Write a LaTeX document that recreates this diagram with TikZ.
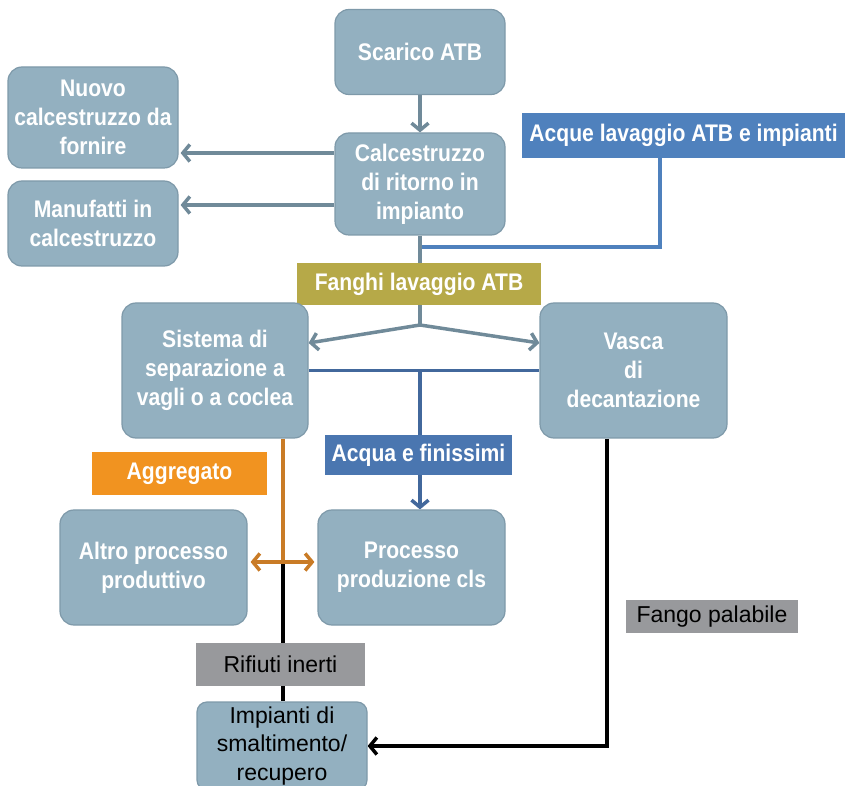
\documentclass[tikz,border=0pt]{standalone}
\usepackage{fontspec}
\setmainfont{Liberation Sans}[FakeStretch=0.88]
\newfontfamily\plainfont{Liberation Sans}
\usetikzlibrary{arrows.meta}
\usetikzlibrary{calc}
\definecolor{bx}{RGB}{147,176,192}
\definecolor{bxl}{RGB}{126,153,169}
\definecolor{gl}{RGB}{112,138,153}
\definecolor{bl1}{RGB}{79,129,189}
\definecolor{bl2}{RGB}{66,104,156}
\definecolor{bl3}{RGB}{74,118,176}
\definecolor{ol}{RGB}{182,169,72}
\definecolor{og}{RGB}{241,147,32}
\definecolor{ogl}{RGB}{201,123,38}
\definecolor{gr}{RGB}{152,153,156}

\begin{document}
\begin{tikzpicture} [
    x=1pt, y=-1pt,
    box/.style={
        font=\fontsize{24}{29}\selectfont\bfseries,
        align=center, text=white,
        draw=bxl, line width=1.2pt, fill=bx,
        rounded corners=14pt
    },
    tag/.style={
        font=\fontsize{24}{29}\selectfont\bfseries,
        text=white, fill=#1, inner sep=0pt
    },
    gtag/.style={
        font=\plainfont\fontsize{23}{28.5}\selectfont,
        text=black, fill=gr, inner sep=0pt
    },
    tip/.style={-{Straight Barb[length=7pt,width=17pt]}},
    garr/.style={draw=gl, line width=3.5pt, tip},
    bln/.style={draw=bl1, line width=3.5pt},
    dbln/.style={draw=bl2, line width=3.5pt},
    oln/.style={draw=ogl, line width=3.5pt},
    kln/.style={draw=black, line width=3.5pt}
]

\pgfdeclarelayer{background}
\pgfsetlayers{background,main}

\useasboundingbox (0,0) rectangle (847,786);

\node [box,minimum width=170pt,minimum height=85pt]  (scarico) at (420,52)    {Scarico ATB};
\node [box,minimum width=170pt,minimum height=102pt] (ritorno) at (420,184)   {Calcestruzzo\\di ritorno in\\impianto};
\node [box,minimum width=170pt,minimum height=101pt] (nuovo)   at (93,117.5)  {Nuovo\\calcestruzzo da\\fornire};
\node [box,minimum width=170pt,minimum height=85pt]  (manuf)   at (93,223.5)  {Manufatti in\\calcestruzzo};
\node [tag=bl1,minimum width=323pt,minimum height=45pt] (acque) at (683.5,135.5) {Acque lavaggio ATB e impianti};
\node [tag=ol,minimum width=244pt,minimum height=42pt] (fanghi) at (419,284) {Fanghi lavaggio ATB};

\node [box,minimum width=186pt,minimum height=135pt] (sistema) at (215,370.5)   {Sistema di\\separazione a\\vagli o a coclea};
\node [box,minimum width=187pt,minimum height=135pt] (vasca)   at (633.5,370.5) {Vasca\\di\\decantazione};
\node [tag=bl3,minimum width=187pt,minimum height=40pt] (acqua) at (418.5,455)  {Acqua e finissimi};
\node [tag=og,minimum width=175pt,minimum height=43pt]  (aggr)  at (179.5,473.5) {Aggregato};

\node [box,minimum width=187pt,minimum height=115pt] (altro) at (153.5,567.5) {Altro processo\\produttivo};
\node [box,minimum width=187pt,minimum height=115pt] (proc)  at (411.5,567.5) {Processo\\produzione cls};
\node [gtag,minimum width=169pt,minimum height=43pt] (rifiuti) at (280.5,664.5) {Rifiuti inerti};
\node [gtag,minimum width=172pt,minimum height=33pt] (fango)   at (712,616.5)   {Fango palabile};
\node [box,text=black,font=\plainfont\fontsize{23}{28.5}\selectfont,rounded corners=10pt,
       minimum width=170pt,minimum height=88pt] (impianti) at (282,746) {Impianti di\\smaltimento/\\recupero};

\coordinate (aj) at (420,247);
\coordinate (sp) at (420,325);
\coordinate (jn) at (420,370.5);
\coordinate (ag) at (283,562);

\begin{pgfonlayer}{background}

\draw [garr] (scarico.south) -- (ritorno.north);
\draw [garr,shorten >=2pt] ([yshift=31pt]ritorno.west)  -- ([yshift=31pt]ritorno.west -| nuovo.east);
\draw [garr,shorten >=2pt] ([yshift=-21pt]ritorno.west) -- ([yshift=-21pt]ritorno.west -| manuf.east);

\draw [bln] ([xshift=-23.5pt]acque.south) |- (aj);
\draw [draw=gl,line width=3.5pt] (ritorno.south) -- (sp);
\draw [garr] (sp) -- ([yshift=27.5pt]sistema.east);
\draw [garr] (sp) -- ([yshift=27.5pt]vasca.west);

\draw [dbln] (sistema.east) -- (vasca.west);
\draw [dbln,tip] (jn) -- (jn |- proc.north);

\draw [oln] (sistema.south -| ag) -- (ag);
\draw [kln] (ag) -- (ag |- impianti.north);
\draw [oln,{Straight Barb[length=7pt,width=17pt]}-{Straight Barb[length=7pt,width=17pt]},shorten <=3pt,shorten >=3pt]
    ([yshift=5.5pt]altro.east) -- ([yshift=5.5pt]proc.west);
\draw [kln,tip] ([xshift=-26.5pt]vasca.south) |- (impianti.east);

\end{pgfonlayer}

\end{tikzpicture}
\end{document}
